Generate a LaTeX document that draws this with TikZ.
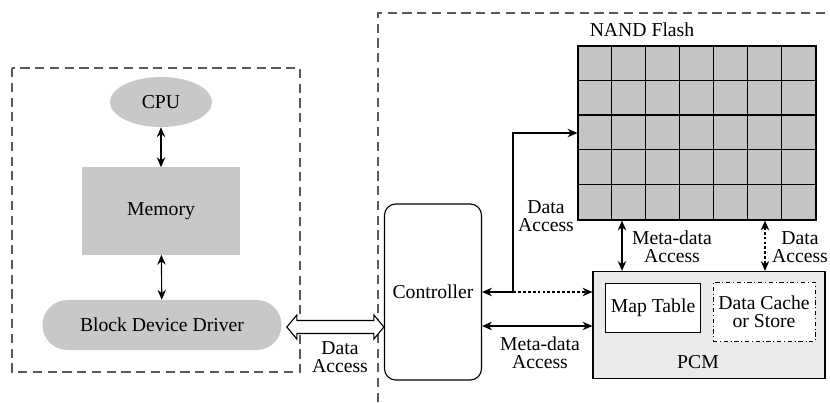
\documentclass[tikz,border=0pt]{standalone}
\usepackage{fontspec}
\setmainfont{Liberation Serif}
\usetikzlibrary{positioning,calc,arrows.meta,shapes.geometric}
\definecolor{boxgray}{RGB}{200,200,200}
\definecolor{cellgray}{RGB}{196,196,196}
\definecolor{pcmgray}{RGB}{234,234,234}
\definecolor{dashgray}{RGB}{90,90,90}

\begin{document}
\begin{tikzpicture}[x=0.025cm,y=-0.025cm,
    every node/.style={font=\fontsize{14}{13}\selectfont},
    softbox/.style={fill=boxgray, draw=none},
    link/.style={{Stealth[length=7pt,width=6pt]}-{Stealth[length=7pt,width=6pt]}, thick},
    frame/.style={draw=dashgray, dash pattern=on 6.5pt off 4pt, thick}]

    \useasboundingbox (0,0) rectangle (830,402);
    \fill[white] (0,0) rectangle (830,402);

    % host side
    \draw[frame] (12,68) rectangle (300,372);
    \node[softbox, ellipse, minimum width=2.55cm, minimum height=1.25cm] (cpu) at (161,102) {CPU};
    \node[softbox, minimum width=3.925cm, minimum height=2.175cm] (mem) at (161,211) {Memory};
    \node[softbox, rounded corners=0.625cm, minimum width=5.975cm, minimum height=1.25cm] (bdd) at (162,325) {Block Device Driver};
    \draw[link] (cpu) -- (mem);
    \draw[link] (mem) -- (bdd);

    % device side
    \draw[frame] (378,402) -- (378,13) -- (830,13);
    \node[draw, thick, rounded corners=8pt, minimum width=2.425cm, minimum height=4.4cm] (ctrl) at (433,292) {Controller};

    % double arrow between host and device
    \coordinate (dl) at ($(bdd.east)+(5,2)$);
    \coordinate (dr) at (ctrl.west |- dl);
    \draw[thick, fill=white] (dl) -- ++(10,-12) -- ++(0,5.5) -- ($(dr)+(-10,-6.5)$) -- ++(0,-5.5) -- (dr)
        -- ++(-10,12) -- ++(0,-5.5) -- ($(dl)+(10,6.5)$) -- ++(0,5.5) -- cycle;
    \node[align=center] (hostlbl) at (340,357) {Data\\Access};

    % flash array
    \node[draw, thick, fill=cellgray, minimum width=5.95cm, minimum height=4.35cm, inner sep=0] (flash) at (697,133) {};
    \foreach \i in {1,...,6} {
        \draw[thick] ($(flash.north west)+(\i*34,0)$) -- ($(flash.south west)+(\i*34,0)$);
    }
    \foreach \j in {1,...,4} {
        \draw[thick] ($(flash.north west)+(0,\j*34.8)$) -- ($(flash.north east)+(0,\j*34.8)$);
    }
    \node (flashlbl) at (642,30) {NAND Flash};

    % pcm
    \node[draw, thick, fill=pcmgray, minimum width=5.8cm, minimum height=2.675cm] (pcm) at (709,325) {};
    \node (pcmlbl) at (698,362) {PCM};
    \node[draw, semithick, fill=white, minimum width=2.375cm, minimum height=1.225cm] (map) at (653,308) {Map Table};
    \node[draw, semithick, dash dot, fill=white, minimum width=2.55cm, minimum height=1.475cm, align=center] (cache) at (764,312) {Data Cache\\or Store};

    % controller links
    \coordinate (split) at (513,292);
    \draw[link] (flash.west) -| (split) -- (ctrl.east);
    \draw[thick, dash pattern=on 2pt off 1.5pt, -{Stealth[length=7pt,width=6pt]}] (split) -- (pcm.west |- split);
    \node[align=center] (datalbl) at (546,216) {Data\\Access};
    \coordinate (meta) at ($(ctrl.east)+(0,34)$);
    \draw[link] (meta) -- (pcm.west |- meta);
    \node[align=center] (metalbl) at (540,353) {Meta-data\\Access};

    % flash to pcm
    \draw[link] (622,0 |- flash.south) -- (622,0 |- pcm.north);
    \draw[link, dash pattern=on 2pt off 1.5pt] (765,0 |- flash.south) -- (765,0 |- pcm.north);
    \node[align=center] (flashmeta) at (672,247) {Meta-data\\Access};
    \node[align=center] (flashdata) at (800,247) {Data\\Access};
\end{tikzpicture}
\end{document}
